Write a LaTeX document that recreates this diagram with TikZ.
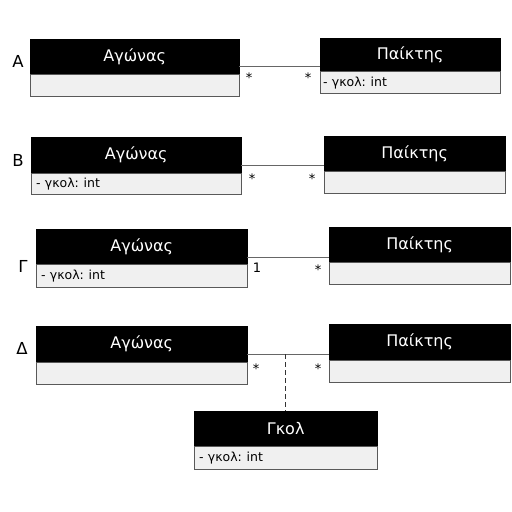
\documentclass[tikz,border=0pt]{standalone}
\usepackage{fontspec}
\setmainfont{DejaVu Sans}
\begin{document}
\begin{tikzpicture}[x=1pt,y=-1pt,
 hdr/.style={draw=black, fill=black, text=white, font=\fontsize{16}{19}\selectfont, anchor=north west, inner sep=0pt},
 attr/.style={draw=black!65, fill=black!6, font=\fontsize{12.5}{15}\selectfont, anchor=north west, inner xsep=5pt, inner ysep=0pt, align=left},
 lbl/.style={font=\fontsize{16.5}{19}\selectfont, inner sep=0pt},
 mult/.style={font=\fontsize{13}{15}\selectfont, inner sep=0pt},
 assoc/.style={draw=black!60, line width=1.1pt},
 linkline/.style={draw=black!80, line width=1pt, dash pattern=on 5pt off 3pt},
]
\useasboundingbox[fill=white] (0,0) rectangle (512,512);

% ---------- A ----------
\node[lbl] (la) at (18,61) {Α};
\node[hdr, minimum width=209pt, minimum height=35pt] (a1h) at (30,39) {Αγώνας};
\node[attr, minimum width=209pt, minimum height=22pt] (a1a) at (a1h.south west) {};
\node[hdr, minimum width=180pt, minimum height=33pt] (p1h) at (320,38) {Παίκτης};
\node[attr, text width=174pt, minimum height=22pt, inner xsep=3pt] (p1a) at (p1h.south west) {- γκολ:\kern-1.5pt{} int};
\draw[assoc] ([yshift=8pt]a1h.south east) -- ([yshift=8pt]a1h.south east -| p1h.west);
\node[mult] (m1a) at (249,78) {*};
\node[mult] (m1b) at (308,78) {*};

% ---------- B ----------
\node[lbl] (lb) at (18,160) {Β};
\node[hdr, minimum width=210pt, minimum height=36pt] (a2h) at (31,137) {Αγώνας};
\node[attr, text width=200pt, minimum height=21pt] (a2a) at (a2h.south west) {- γκολ:\kern-1.5pt{} int};
\node[hdr, minimum width=181pt, minimum height=35pt] (p2h) at (324,136) {Παίκτης};
\node[attr, minimum width=181pt, minimum height=22pt] (p2a) at (p2h.south west) {};
\draw[assoc] ([yshift=8pt]a2h.south east) -- ([yshift=8pt]a2h.south east -| p2h.west);
\node[mult] (m2a) at (252,179) {*};
\node[mult] (m2b) at (312,179) {*};

% ---------- Γ ----------
\node[lbl] (lc) at (23,266) {Γ};
\node[hdr, minimum width=211pt, minimum height=35pt] (a3h) at (36,229) {Αγώνας};
\node[attr, text width=201pt, minimum height=23pt] (a3a) at (a3h.south west) {- γκολ:\kern-1.5pt{} int};
\node[hdr, minimum width=181pt, minimum height=35pt] (p3h) at (329,227) {Παίκτης};
\node[attr, minimum width=181pt, minimum height=22pt] (p3a) at (p3h.south west) {};
\draw[assoc] ([yshift=7pt]a3h.south east) -- ([yshift=7pt]a3h.south east -| p3h.west);
\node[mult] (m3a) at (257,268) {1};
\node[mult] (m3b) at (318,270) {*};

% ---------- Δ ----------
\node[lbl] (ld) at (22,348) {Δ};
\node[hdr, minimum width=211pt, minimum height=36pt] (a4h) at (36,326) {Αγώνας};
\node[attr, minimum width=211pt, minimum height=22pt] (a4a) at (a4h.south west) {};
\node[hdr, minimum width=181pt, minimum height=36pt] (p4h) at (329,324) {Παίκτης};
\node[attr, minimum width=181pt, minimum height=22pt] (p4a) at (p4h.south west) {};
\draw[assoc] ([yshift=8pt]a4h.south east) -- ([yshift=8pt]a4h.south east -| p4h.west);
\coordinate (mid) at ([yshift=8pt]a4h.south east -| 285,0);
\node[hdr, minimum width=183pt, minimum height=35pt] (g4h) at (194,411) {Γκολ};
\node[attr, text width=173pt, minimum height=23pt] (g4a) at (g4h.south west) {- γκολ:\kern-1.5pt{} int};
\draw[linkline] (mid) -- (mid |- g4h.north);
\node[mult] (m4a) at (256,369) {*};
\node[mult] (m4b) at (318,369) {*};
\end{tikzpicture}
\end{document}
